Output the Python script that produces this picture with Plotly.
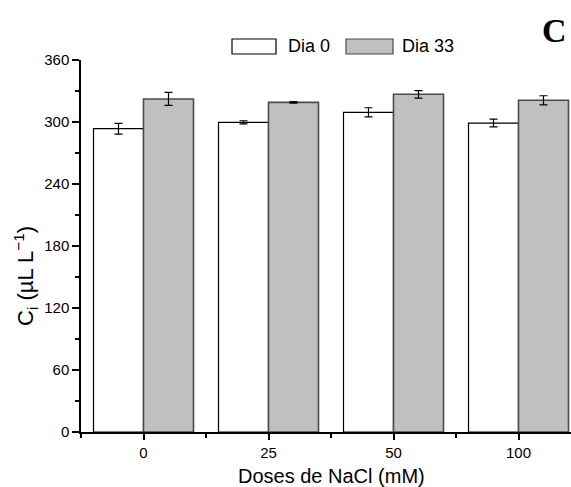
import plotly.graph_objects as go

# ---- data ----
doses = ["0", "25", "50", "100"]
dia0 = [293.5, 299.7, 309.4, 299.0]
dia0_err = [5.2, 1.5, 4.4, 3.7]
dia33 = [322.3, 319.0, 326.8, 321.0]
dia33_err = [6.3, 0.8, 3.6, 4.4]
series_names = ["Dia 0", "Dia 33"]
y_ticks = [0, 60, 120, 180, 240, 300, 360]

xpos = list(range(len(doses)))

W, H = 571, 487
ML, MR, MT, MB = 81, 0, 60, 55
PW, PH = W - ML - MR, H - MT - MB


def px_x(p):
    return (p - ML) / PW


def px_y(p):
    return (H - MB - p) / PH


FONT = "Liberation Sans, Arial, sans-serif"

fig = go.Figure()
fig.add_trace(go.Bar(
    x=xpos, y=dia0, name=series_names[0],
    marker=dict(color="#ffffff", line=dict(color="#000000", width=1.2)),
    error_y=dict(type="data", array=dia0_err, color="#000000", thickness=1.2, width=4),
    showlegend=False,
))
fig.add_trace(go.Bar(
    x=xpos, y=dia33, name=series_names[1],
    marker=dict(color="#c0c0c0", line=dict(color="#4a4a4a", width=1.6)),
    error_y=dict(type="data", array=dia33_err, color="#000000", thickness=1.2, width=4),
    showlegend=False,
))

fig.update_layout(
    width=W, height=H,
    margin=dict(l=ML, r=MR, t=MT, b=MB),
    paper_bgcolor="white", plot_bgcolor="white",
    barmode="group", bargap=0.2, bargroupgap=0,
    font=dict(family=FONT, color="black", size=15),
    showlegend=False,
    xaxis=dict(
        range=[-0.5, 3.42],
        tickvals=xpos, ticktext=doses,
        ticks="outside", ticklen=6, tickwidth=1.5, tickcolor="black",
        minor=dict(tickvals=[-0.5, 0.5, 1.5, 2.5], ticks="outside", ticklen=4,
                   tickwidth=1.5, tickcolor="black"),
        showline=True, linecolor="black", linewidth=1.5,
        showgrid=False, zeroline=False,
        tickfont=dict(size=15, family=FONT),
    ),
    yaxis=dict(
        range=[0, 360],
        tickvals=y_ticks,
        ticks="outside", ticklen=7, tickwidth=1.5, tickcolor="black",
        minor=dict(dtick=30, tick0=0, ticks="outside", ticklen=4,
                   tickwidth=1.5, tickcolor="black"),
        showline=True, linecolor="black", linewidth=1.5,
        showgrid=False, zeroline=False,
        tickfont=dict(size=15, family=FONT),
    ),
)

# axis titles
fig.add_annotation(
    text="Doses de NaCl (mM)", xref="paper", yref="paper",
    x=px_x(331), y=px_y(476), showarrow=False,
    font=dict(size=20, family=FONT, color="black"),
    xanchor="center", yanchor="middle",
)
fig.add_annotation(
    text="C<sub>i</sub> (µL L<sup>−1</sup>)", xref="paper", yref="paper",
    x=px_x(25), y=px_y(276), showarrow=False, textangle=-90,
    font=dict(size=22, family=FONT, color="black"),
    xanchor="center", yanchor="middle",
)

# panel letter
fig.add_annotation(
    text="<b>C</b>", xref="paper", yref="paper",
    x=px_x(554), y=px_y(30), showarrow=False,
    font=dict(size=34, family="Liberation Serif, Times New Roman, serif", color="black"),
    xanchor="center", yanchor="middle",
)

# legend (drawn manually to get the wide swatches)
legend_items = [
    (series_names[0], "#ffffff", "#000000", 232, 276, 286),
    (series_names[1], "#c0c0c0", "#4a4a4a", 346, 393, 400),
]
for name, fill, edge, x0, x1, tx in legend_items:
    fig.add_shape(
        type="rect", xref="paper", yref="paper",
        x0=px_x(x0), x1=px_x(x1), y0=px_y(54), y1=px_y(39),
        fillcolor=fill, line=dict(color=edge, width=1.2),
    )
    fig.add_annotation(
        text=name, xref="paper", yref="paper",
        x=px_x(tx), y=px_y(46.5), showarrow=False,
        font=dict(size=18, family=FONT, color="black"),
        xanchor="left", yanchor="middle",
    )

fig.write_html("out.html")
